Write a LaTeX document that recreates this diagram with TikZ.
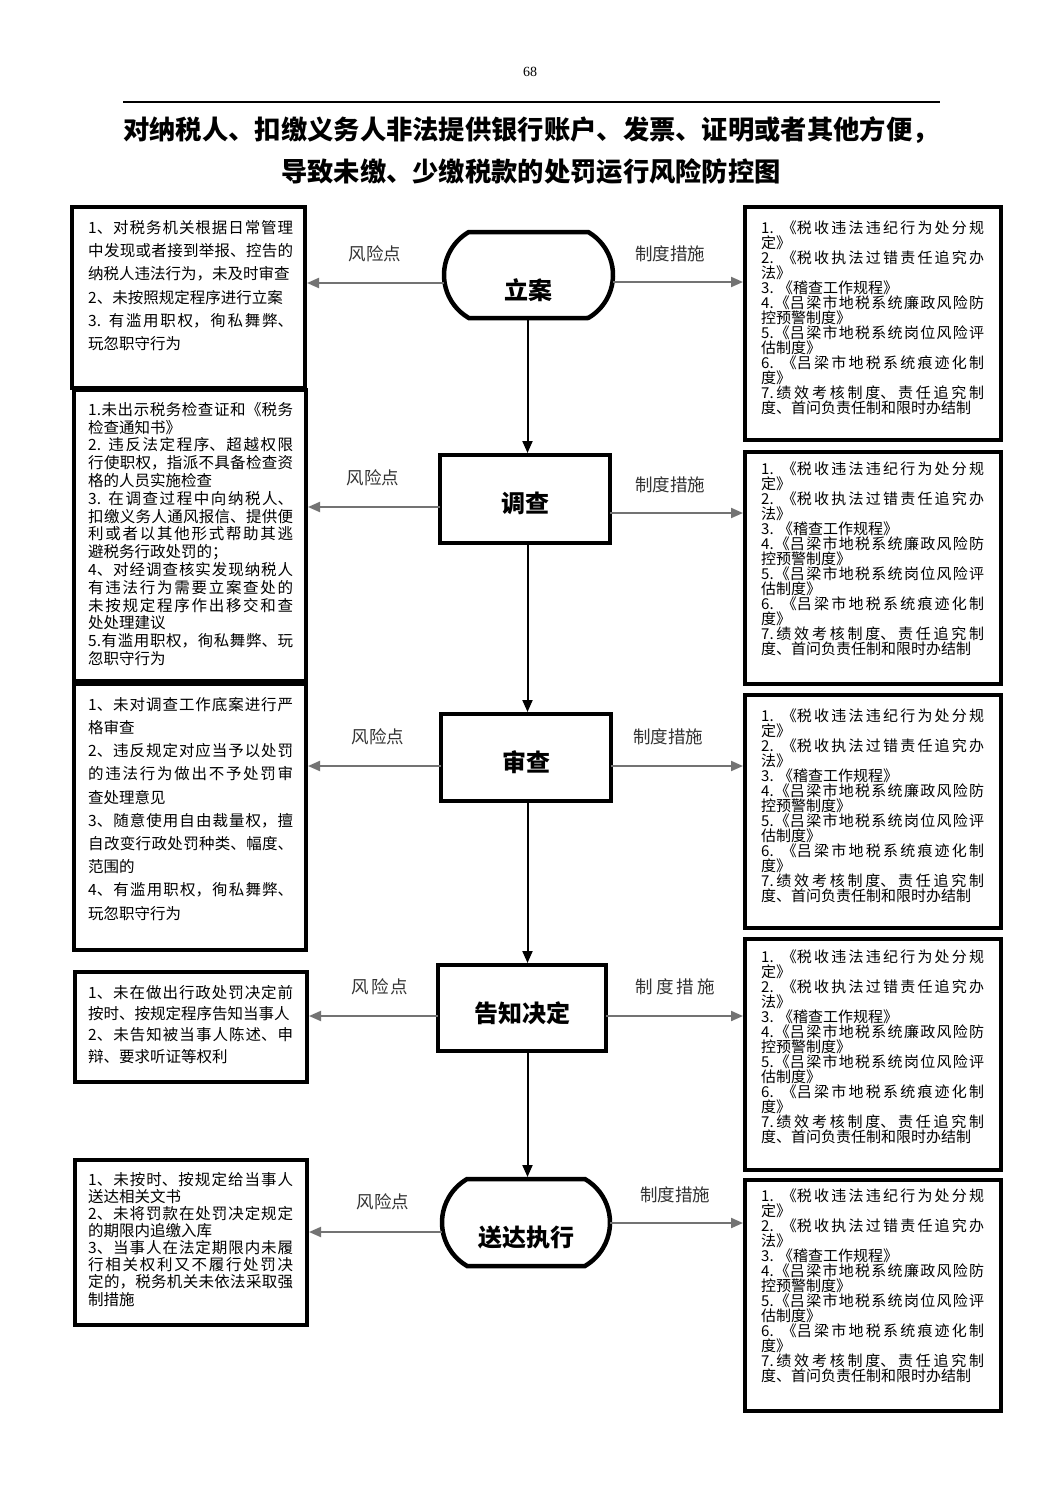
\documentclass[tikz,border=0pt]{standalone}
\usepackage{fontspec}
\setmainfont{Noto Sans CJK SC}
\newfontfamily\serifnum{Liberation Serif}
\usetikzlibrary{shapes.misc,arrows.meta}
\XeTeXlinebreaklocale "zh"
\XeTeXlinebreakskip=0pt plus 3pt
\tolerance=10000
\hbadness=10000
\newcommand\zdcs{1. 《税收违法违纪行为处分规\linebreak 定》\\%
2. 《税收执法过错责任追究办\linebreak 法》\\%
3. 《稽查工作规程》\\%
4.《吕梁市地税系统廉政风险防\linebreak 控预警制度》\\%
5.《吕梁市地税系统岗位风险评\linebreak 估制度》\\%
6. 《吕梁市地税系统痕迹化制\linebreak 度》\\%
7.绩效考核制度、责任追究制\linebreak 度、首问负责任制和限时办结制}
\tikzset{
  bx/.style={draw=black, line width=4.5pt, fill=white, inner sep=0pt, outer sep=0pt},
  stad/.style={rounded rectangle, rounded rectangle arc length=120, draw=black, line width=4.5pt, fill=white, inner sep=0pt, outer sep=0pt},
  ctext/.style={font=\bfseries\fontsize{24pt}{28pt}\selectfont, inner sep=0pt},
  ltext/.style={anchor=north west, inner sep=0pt, text width=205pt, align=justify,
    font={\fontsize{15.5pt}{#1}\selectfont\lineskiplimit=-20pt\lineskip=0pt\parindent=0pt}},
  rtext/.style={anchor=north west, inner sep=0pt, text width=223pt, align=justify,
    font={\fontsize{15pt}{15pt}\selectfont\lineskiplimit=-20pt\lineskip=0pt\parindent=0pt}},
  lab/.style={font=\fontsize{17.5pt}{20pt}\selectfont, text=black!80, inner sep=0pt},
  titl/.style={font=\bfseries\fontsize{26.3pt}{30pt}\selectfont, inner sep=0pt},
  garrow/.style={draw=black!55, line width=2pt, -{Triangle[length=12pt,width=10pt]}, shorten >=2pt},
  varrow/.style={draw=black, line width=2pt, -{Triangle[length=12pt,width=10pt]}, shorten >=2pt}
}
\begin{document}
\begin{tikzpicture}[x=1pt,y=-1pt]
\useasboundingbox (0,0) rectangle (1063,1502);
\fill[white] (0,0) rectangle (1063,1502);
% header
\node[font=\serifnum\fontsize{14pt}{16pt}\selectfont, inner sep=0pt] (pg) at (530,72) {68};
\coordinate (hl) at (123,102);
\coordinate (hr) at (940,102);
\draw[line width=1.5pt] (hl) -- (hr);
\node[titl] (t1) at (531,130) {对纳税人、扣缴义务人非法提供银行账户、发票、证明或者其他方便，};
\node[titl] (t2) at (531,172) {导致未缴、少缴税款的处罚运行风险防控图};
% left boxes
\node[bx, minimum width=233pt, minimum height=181pt] (L1) at (188.5,297.5) {};
\node[bx, minimum width=232pt, minimum height=291pt] (L2) at (190,535.5) {};
\node[bx, minimum width=232pt, minimum height=266pt] (L3) at (190,817) {};
\node[bx, minimum width=232pt, minimum height=110pt] (L4) at (191,1027) {};
\node[bx, minimum width=232pt, minimum height=165pt] (L5) at (191,1242.5) {};
\node[ltext=23.3pt] (LT1) at (88,220) {1、对税务机关根据日常管理\linebreak 中发现或者接到举报、控告的\linebreak 纳税人违法行为，未及时审查\\2、未按照规定程序进行立案\\3. 有滥用职权，徇私舞弊、\linebreak 玩忽职守行为};
\node[ltext=17.8pt] (LT2) at (88,402) {1.未出示税务检查证和《税务\linebreak 检查通知书》\\2. 违反法定程序、超越权限\linebreak 行使职权，指派不具备检查资\linebreak 格的人员实施检查\\3. 在调查过程中向纳税人、\linebreak 扣缴义务人通风报信、提供便\linebreak 利或者以其他形式帮助其逃\linebreak 避税务行政处罚的；\\4、对经调查核实发现纳税人\linebreak 有违法行为需要立案查处的\linebreak 未按规定程序作出移交和查\linebreak 处处理建议\\5.有滥用职权，徇私舞弊、玩\linebreak 忽职守行为};
\node[ltext=23.2pt] (LT3) at (88,697) {1、未对调查工作底案进行严\linebreak 格审查\\2、违反规定对应当予以处罚\linebreak 的违法行为做出不予处罚审\linebreak 查处理意见\\3、随意使用自由裁量权，擅\linebreak 自改变行政处罚种类、幅度、\linebreak 范围的\\4、有滥用职权，徇私舞弊、\linebreak 玩忽职守行为};
\node[ltext=21.3pt] (LT4) at (88,985) {1、未在做出行政处罚决定前\linebreak 按时、按规定程序告知当事人\\2、未告知被当事人陈述、申\linebreak 辩、要求听证等权利};
\node[ltext=17.1pt] (LT5) at (88,1172) {1、未按时、按规定给当事人\linebreak 送达相关文书\\2、未将罚款在处罚决定规定\linebreak 的期限内追缴入库\\3、当事人在法定期限内未履\linebreak 行相关权利又不履行处罚决\linebreak 定的，税务机关未依法采取强\linebreak 制措施};
% right boxes
\node[bx, minimum width=256pt, minimum height=233pt] (R1) at (873,323.5) {};
\node[bx, minimum width=256pt, minimum height=232pt] (R2) at (873,568) {};
\node[bx, minimum width=256pt, minimum height=233pt] (R3) at (873,811.5) {};
\node[bx, minimum width=256pt, minimum height=231pt] (R4) at (873,1054.5) {};
\node[bx, minimum width=256pt, minimum height=231pt] (R5) at (873,1295.5) {};
\node[rtext] (RT1) at (761,220.5) {\zdcs};
\node[rtext] (RT2) at (761,461.5) {\zdcs};
\node[rtext] (RT3) at (761,708.5) {\zdcs};
\node[rtext] (RT4) at (761,949.5) {\zdcs};
\node[rtext] (RT5) at (761,1188.5) {\zdcs};
% centre nodes
\node[stad, minimum width=169pt, minimum height=86pt, label={[ctext,yshift=-15pt]center:立案}] (n1) at (528.5,275) {};
\node[bx, minimum width=170pt, minimum height=88pt, label={[ctext,yshift=-4pt]center:调查}] (n2) at (525,499) {};
\node[bx, minimum width=170pt, minimum height=87pt, label={[ctext,yshift=-4.5pt]center:审查}] (n3) at (526,757.5) {};
\node[bx, minimum width=168pt, minimum height=86pt, label={[ctext,yshift=-5pt]center:告知决定}] (n4) at (522,1008) {};
\node[stad, minimum width=168pt, minimum height=87pt, label={[ctext,yshift=-14.5pt]center:送达执行}] (n5) at (526,1222.5) {};
% spine
\coordinate (sp) at (527.5,0);
\draw[varrow] (n1.south -| sp) -- (n2.north -| sp);
\draw[varrow] (n2.south -| sp) -- (n3.north -| sp);
\draw[varrow] (n3.south -| sp) -- (n4.north -| sp);
\draw[varrow] (n4.south -| sp) -- (n5.north -| sp);
% left arrows
\draw[garrow] (n1.west |- 0,283) -- (L1.east |- 0,283);
\draw[garrow] (n2.west |- 0,507) -- (L2.east |- 0,507);
\draw[garrow] (n3.west |- 0,766) -- (L3.east |- 0,766);
\draw[garrow] (n4.west |- 0,1016) -- (L4.east |- 0,1016);
\draw[garrow] (n5.west |- 0,1232) -- (L5.east |- 0,1232);
% right arrows
\draw[garrow] (n1.east |- 0,282) -- (R1.west |- 0,282);
\draw[garrow] (n2.east |- 0,513) -- (R2.west |- 0,513);
\draw[garrow] (n3.east |- 0,766) -- (R3.west |- 0,766);
\draw[garrow] (n4.east |- 0,1016) -- (R4.west |- 0,1016);
\draw[garrow] (n5.east |- 0,1223) -- (R5.west |- 0,1223);
% labels
\node[lab] (a1) at (375,254) {风险点};
\node[lab] (a2) at (373,478) {风险点};
\node[lab] (a3) at (378,737) {风险点};
\node[lab] (a4) at (380,987) {风\kern2pt 险\kern2pt 点};
\node[lab] (a5) at (383,1202) {风险点};
\node[lab] (b1) at (670,254) {制度措施};
\node[lab] (b2) at (670,485) {制度措施};
\node[lab] (b3) at (668,737) {制度措施};
\node[lab] (b4) at (675,987) {制\kern3pt 度\kern3pt 措\kern3pt 施};
\node[lab] (b5) at (675,1195) {制度措施};
\end{tikzpicture}
\end{document}
